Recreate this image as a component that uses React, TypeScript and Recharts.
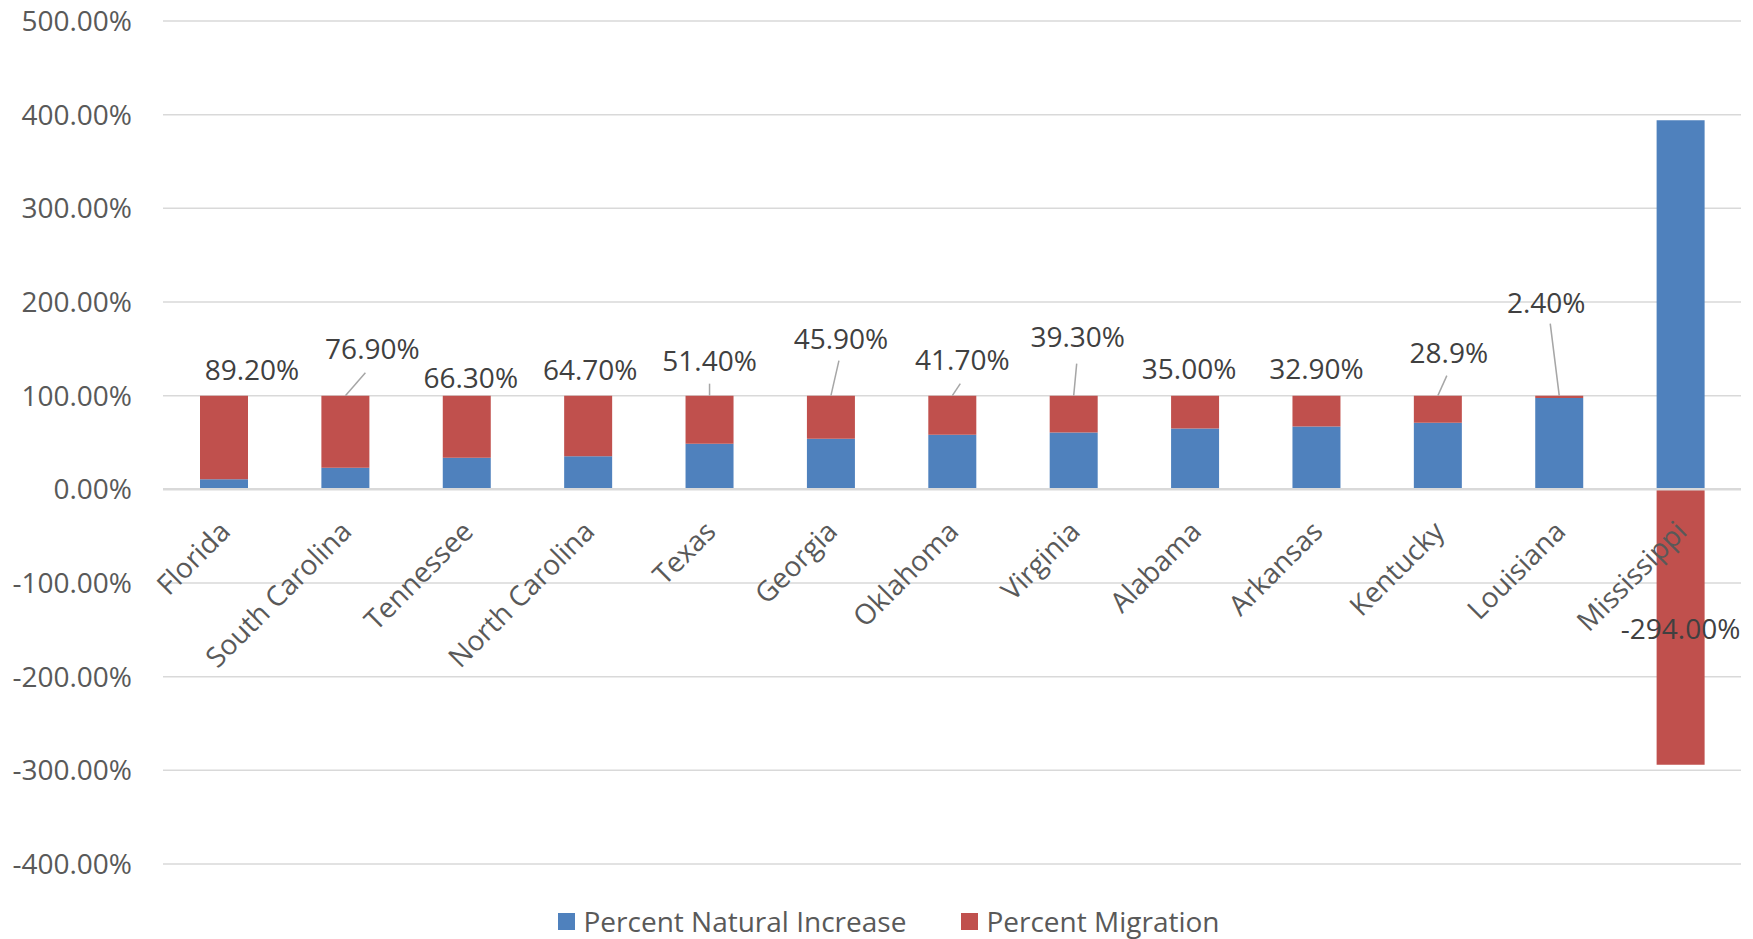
import React from "react";
import {
  Bar,
  BarChart,
  CartesianGrid,
  LabelList,
  Legend,
  ReferenceLine,
  XAxis,
  YAxis,
} from "recharts";

const states = [
  "Florida",
  "South Carolina",
  "Tennessee",
  "North Carolina",
  "Texas",
  "Georgia",
  "Oklahoma",
  "Virginia",
  "Alabama",
  "Arkansas",
  "Kentucky",
  "Louisiana",
  "Mississippi",
];
const naturalIncrease = [10.8, 23.1, 33.7, 35.3, 48.6, 54.1, 58.3, 60.7, 65.0, 67.1, 71.1, 97.6, 394.0];
const migration = [89.2, 76.9, 66.3, 64.7, 51.4, 45.9, 41.7, 39.3, 35.0, 32.9, 28.9, 2.4, -294.0];
const migrationLabels = [
  "89.20%",
  "76.90%",
  "66.30%",
  "64.70%",
  "51.40%",
  "45.90%",
  "41.70%",
  "39.30%",
  "35.00%",
  "32.90%",
  "28.9%",
  "2.40%",
  "-294.00%",
];
const yTicks = [-400, -300, -200, -100, 0, 100, 200, 300, 400, 500];

// where each value label sits relative to the top of its bar (Excel moved some by hand)
const labelShift = [
  [28, -27], [27, -48], [4, -19], [2, -27], [0, -36], [10, -58], [10, -37],
  [4, -60], [-6, -28], [0, -28], [11, -44], [-13, -94], [0, 139],
];
// leader line ends, same reference point
const leaderEnd = [
  null, [20, -23], null, null, [0, -12], [8, -35], [8, -12],
  [3, -32], null, null, [9, -20], [-9, -72], null,
];

const data = states.map((state, i) => ({
  state,
  natural: naturalIncrease[i],
  migration: migration[i],
}));

const BLUE = "#4f81bd";
const RED = "#c0504d";

const MigrationLabel = (props: any) => {
  const { x, y, width, height, index } = props;
  const cx = Number(x) + Number(width) / 2;
  const top = Math.min(Number(y), Number(y) + Number(height));
  const bottom = Math.max(Number(y), Number(y) + Number(height));
  const m = migration[index];
  // zero line: for positive migration the bar sits on the natural increase bar
  const k = Math.abs(Number(height)) / Math.abs(m);
  const zero = m >= 0 ? bottom + naturalIncrease[index] * k : top;
  const [dx, dy] = labelShift[index];
  const lead = leaderEnd[index];
  const ax = cx + 8;
  const ay = zero + 44;
  return (
    <g>
      <text
        x={ax}
        y={ay}
        textAnchor="end"
        transform={`rotate(-45 ${ax} ${ay})`}
        fontSize={28}
        fill="#595959"
      >
        {states[index]}
      </text>
      {lead && (
        <line
          x1={cx}
          y1={top}
          x2={cx + lead[0]}
          y2={top + lead[1]}
          stroke="#a6a6a6"
          strokeWidth={1.5}
        />
      )}
      <text
        x={cx + dx}
        y={top + dy}
        textAnchor="middle"
        dominantBaseline="central"
        fontSize={28}
        fill="#404040"
      >
        {migrationLabels[index]}
      </text>
    </g>
  );
};

const LegendBox = () => (
  <div
    style={{
      display: "flex",
      justifyContent: "center",
      alignItems: "center",
      fontSize: 28,
      color: "#595959",
      height: 36,
      paddingLeft: 24,
    }}
  >
    <span style={{ width: 17, height: 17, background: BLUE, marginRight: 9 }} />
    <span>Percent Natural Increase</span>
    <span style={{ width: 17, height: 17, background: RED, marginLeft: 55, marginRight: 8 }} />
    <span>Percent Migration</span>
  </div>
);

export default function App() {
  return (
    <div
      style={{
        position: "absolute",
        left: 0,
        top: 0,
        background: "#fff",
        fontFamily: "'Open Sans', sans-serif",
      }}
    >
      <BarChart
        width={1753}
        height={939}
        data={data}
        stackOffset="sign"
        barSize={48}
        margin={{ top: 21, right: 12, left: 0, bottom: 39 }}
      >
        <CartesianGrid vertical={false} stroke="#d9d9d9" strokeWidth={1.5} />
        <XAxis dataKey="state" hide />
        <YAxis
          domain={[-400, 500]}
          ticks={yTicks}
          width={163}
          axisLine={false}
          tickLine={false}
          tickSize={0}
          tickMargin={31}
          tick={{ fontSize: 28, fill: "#595959" }}
          tickFormatter={(v: number) => `${v.toFixed(2)}%`}
        />
        <ReferenceLine y={0} stroke="#d9d9d9" strokeWidth={2.5} />
        <Legend
          verticalAlign="bottom"
          content={<LegendBox />}
          wrapperStyle={{ bottom: 0, left: 0, width: 1753, height: 36 }}
        />
        <Bar
          dataKey="natural"
          name="Percent Natural Increase"
          stackId="a"
          fill={BLUE}
          isAnimationActive={false}
        />
        <Bar
          dataKey="migration"
          name="Percent Migration"
          stackId="a"
          fill={RED}
          isAnimationActive={false}
        >
          <LabelList dataKey="migration" content={<MigrationLabel />} />
        </Bar>
      </BarChart>
    </div>
  );
}
